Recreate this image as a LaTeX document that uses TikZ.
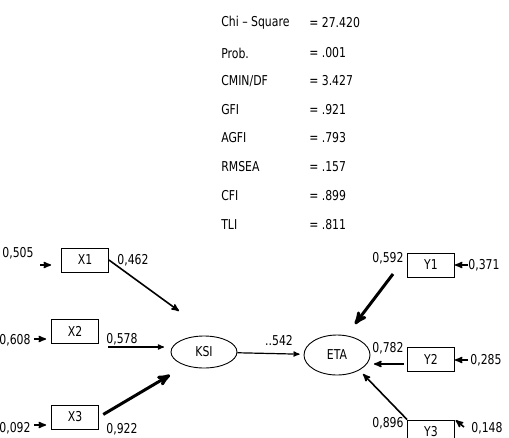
\documentclass[tikz,border=0pt]{standalone}
\usepackage{fontspec}
\setmainfont{DejaVu Sans}[FakeStretch=0.8]
\usetikzlibrary{arrows,shapes}

\begin{document}
\begin{tikzpicture}[->,>=stealth',x=1pt,y=-1pt,semithick,
                    font=\fontsize{13.6}{15}\selectfont,
                    obs/.style={draw,rectangle,-,line width=0.9pt,minimum width=47pt,minimum height=24pt,inner sep=0pt},
                    lat/.style={draw,ellipse,-,line width=0.9pt,minimum width=66pt,inner sep=0pt},
                    val/.style={inner sep=0pt},
                    stat/.style={inner sep=0pt,anchor=west},
                    thin/.style={line width=1.2pt},
                    mid/.style={line width=1.6pt},
                    thick/.style={line width=3pt}]
  \useasboundingbox (0,0) rectangle (509,437);

  % fit statistics
  \node[stat] (chi)   at (221,23)  {Chi -- Square};
  \node[stat] (prob)  at (221,53)  {Prob.};
  \node[stat] (cmin)  at (221,81)  {CMIN/DF};
  \node[stat] (gfi)   at (221,110) {GFI};
  \node[stat] (agfi)  at (221,138) {AGFI};
  \node[stat] (rmsea) at (221,167) {RMSEA};
  \node[stat] (cfi)   at (221,196) {CFI};
  \node[stat] (tli)   at (221,225) {TLI};
  \node[stat] (chiv)   at (309,23)  {= 27.420};
  \node[stat] (probv)  at (309,53)  {= .001};
  \node[stat] (cminv)  at (309,81)  {= 3.427};
  \node[stat] (gfiv)   at (309,110) {= .921};
  \node[stat] (agfiv)  at (309,138) {= .793};
  \node[stat] (rmseav) at (309,167) {= .157};
  \node[stat] (cfiv)   at (309,196) {= .899};
  \node[stat] (tliv)   at (309,225) {= .811};

  % observed and latent variables
  \node[obs] (X1) at (85,260)  {X1};
  \node[obs] (X2) at (75,331)  {X2};
  \node[obs] (X3) at (75,417)  {X3};
  \node[obs] (Y1) at (431,265) {Y1};
  \node[obs] (Y2) at (431,359) {Y2};
  \node[obs] (Y3) at (431,432) {Y3};
  \node[lat,minimum height=32pt] (KSI) at (204,352) {KSI};
  \node[lat,minimum height=40pt] (ETA) at (337,355) {ETA};

  % values
  \node[val] (e1) at (18,253)  {0,505};
  \node[val] (e2) at (15,340)  {0,608};
  \node[val] (e3) at (15,428)  {0,092};
  \node[val] (l1) at (133,260) {0,462};
  \node[val] (l2) at (122,339) {0,578};
  \node[val] (l3) at (122,429) {0,922};
  \node[val] (g)  at (279,341) {..542};
  \node[val] (m1) at (388,258) {0,592};
  \node[val] (m2) at (388,348) {0,782};
  \node[val] (m3) at (388,423) {0,896};
  \node[val] (d1) at (484,265) {0,371};
  \node[val] (d2) at (486,360) {0,285};
  \node[val] (d3) at (487,428) {0,148};

  % free ends of the arrows
  \coordinate (re1) at (40,265);
  \coordinate (re2) at (34,339);
  \coordinate (re3) at (34,425);
  \coordinate (rd1) at (468,265);
  \coordinate (rd2) at (468,360);
  \coordinate (rd3) at (464,427);
  \coordinate (tX1) at (179,311);
  \coordinate (sX2) at (108,347);
  \coordinate (tX2) at (164,347);
  \coordinate (tX3) at (170,375);
  \coordinate (sY1) at (393,274);
  \coordinate (tY1) at (355,324);
  \coordinate (sY2) at (404,364);
  \coordinate (tY2) at (374,364);
  \coordinate (tY3) at (363,374);

  \draw[mid,shorten >=10pt] (re1) -- (X1.west |- re1);
  \draw[mid,shorten >=5pt]  (re2) -- (X2.west |- re2);
  \draw[mid,shorten >=5pt]  (re3) -- (X3.west |- re3);
  \draw[mid] (rd1) -- (Y1.east |- rd1);
  \draw[mid] (rd2) -- (Y2.east |- rd2);
  \draw[mid,shorten >=1pt] (rd3) -- (Y3.north east);

  \draw[mid]   (X1.east) -- (tX1);
  \draw[thin]  (sX2) -- (tX2);
  \draw[thick,shorten <=5pt] (X3.east) -- (tX3);
  \draw[thin,shorten >=4pt] (KSI) -- (ETA);
  \draw[thick] (sY1) -- (tY1);
  \draw[mid]   (sY2) -- (tY2);
  \draw[mid]   (Y3.north west) -- (tY3);
\end{tikzpicture}
\end{document}
